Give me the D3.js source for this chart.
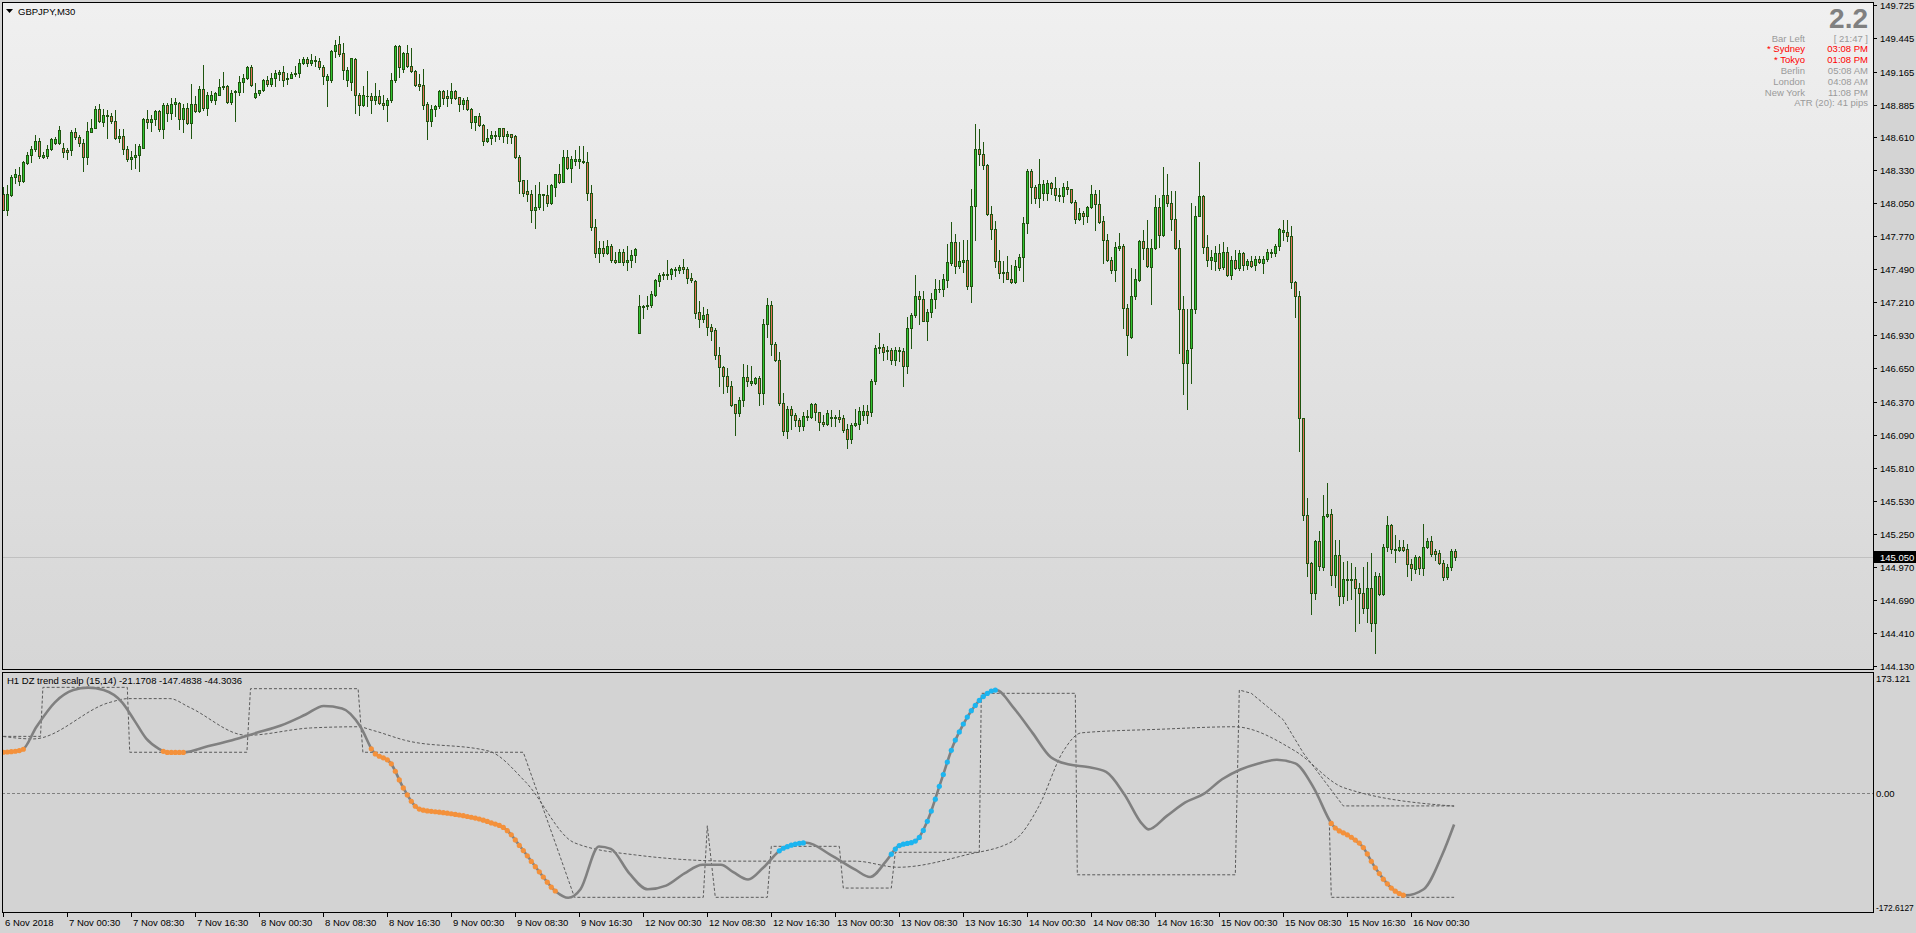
<!DOCTYPE html>
<html><head><meta charset="utf-8">
<script src="https://cdnjs.cloudflare.com/ajax/libs/d3/7.8.5/d3.min.js"></script>
<style>
body{margin:0;background:#d4d4d4;overflow:hidden}
svg{display:block}
text{font-family:"Liberation Sans",Arial,sans-serif}
</style></head>
<body><svg id="c" width="1916" height="933"></svg>
<script>
// ---------- DATA ----------
const symbolTitle = "GBPJPY,M30";
const opens = [148.13,147.99,148.12,148.27,148.29,148.24,148.39,148.46,148.51,148.58,148.44,148.45,148.51,148.56,148.56,148.52,148.50,148.50,148.65,148.61,148.56,148.44,148.65,148.69,148.85,148.74,148.79,148.79,148.75,148.60,148.62,148.51,148.42,148.44,148.46,148.52,148.76,148.74,148.76,148.83,148.68,148.88,148.81,148.89,148.90,148.76,148.86,148.73,148.89,148.83,149.02,148.86,148.92,148.92,148.97,149.03,149.04,148.91,148.99,148.99,149.08,149.11,149.20,148.95,148.98,149.01,149.09,149.06,149.11,149.14,149.16,149.10,149.11,149.14,149.15,149.24,149.27,149.24,149.25,149.25,149.20,149.09,149.09,149.34,149.40,149.32,149.09,149.08,149.27,148.97,148.88,148.96,
148.96,148.92,148.96,148.90,148.88,148.92,149.09,149.38,149.19,149.32,149.21,149.17,149.06,149.05,148.89,148.75,148.85,148.87,149.00,148.96,148.94,149.00,148.95,148.89,148.92,148.85,148.74,148.79,148.71,148.58,148.60,148.62,148.62,148.69,148.62,148.64,148.62,148.44,148.25,148.15,148.13,147.99,148.02,148.12,148.12,148.05,148.19,148.30,148.23,148.44,148.35,148.41,148.41,148.41,148.40,148.14,147.85,147.63,147.67,147.63,147.69,147.57,147.55,147.64,147.55,147.57,147.61,
146.95,147.17,147.18,147.19,147.27,147.39,147.44,147.44,147.45,147.48,147.48,147.51,147.49,147.42,147.39,147.13,147.07,147.11,147.00,146.98,146.76,146.66,146.59,146.50,146.35,146.27,146.38,146.58,146.53,146.53,146.57,146.44,147.03,147.19,146.86,146.72,146.36,146.12,146.31,146.26,146.21,146.16,146.24,146.24,146.35,146.28,146.20,146.18,146.23,146.23,146.24,146.23,146.14,146.05,146.17,146.18,146.26,146.29,146.28,146.54,146.82,146.83,146.80,146.81,146.72,146.81,146.80,146.67,146.99,147.10,147.26,147.24,147.05,147.13,147.24,147.32,147.32,147.40,147.54,147.72,147.52,147.55,147.57,147.35,148.03,148.51,148.47,148.37,147.96,147.83,147.56,147.46,147.47,147.41,147.38,147.51,147.59,147.88,148.32,148.19,148.09,148.14,148.14,148.22,148.18,148.11,148.11,148.19,148.17,148.06,147.92,147.97,147.94,148.02,148.13,
148.04,147.90,147.74,147.57,147.48,147.67,147.69,147.16,146.92,147.26,147.40,147.73,147.67,147.51,147.67,148.02,147.78,148.12,148.05,147.92,147.67,147.15,146.70,146.82,147.15,147.94,148.11,147.68,147.57,147.56,147.63,147.51,147.64,147.44,147.57,147.50,147.63,147.53,147.56,147.53,147.58,147.54,147.58,147.63,147.63,147.69,147.81,147.81,147.77,147.38,147.26,146.23,145.41,145.00,144.75,145.19,144.97,145.40,145.42,144.90,145.07,144.72,144.86,144.86,144.87,144.79,144.75,144.62,144.79,144.49,144.89,144.74,145.14,145.32,145.11,145.11,145.14,145.12,144.99,144.95,145.05,144.96,145.14,145.19,145.10,145.09,145.00,144.88,144.97,145.10];
const highs = [148.19,148.20,148.29,148.34,148.36,148.41,148.48,148.53,148.63,148.60,148.48,148.54,148.60,148.61,148.70,148.56,148.52,148.67,148.69,148.63,148.59,148.74,148.76,148.87,148.89,148.85,148.84,148.81,148.84,148.68,148.68,148.53,148.49,148.55,148.55,148.77,148.84,148.80,148.84,148.84,148.90,148.90,148.94,148.94,148.91,148.89,148.90,149.06,148.96,149.04,149.22,148.99,149.00,148.99,149.10,149.16,149.05,149.01,149.01,149.13,149.14,149.21,149.22,149.07,149.01,149.10,149.13,149.15,149.18,149.18,149.21,149.15,149.16,149.21,149.27,149.29,149.29,149.31,149.30,149.28,149.22,149.14,149.35,149.43,149.47,149.41,149.20,149.28,149.28,148.98,149.04,149.17,
148.98,149.07,149.01,148.97,148.94,149.15,149.39,149.39,149.33,149.39,149.36,149.18,149.14,149.19,148.91,148.88,148.88,149.01,149.01,149.01,149.07,149.01,148.95,148.94,148.95,148.86,148.79,148.81,148.72,148.68,148.66,148.66,148.69,148.69,148.66,148.64,148.63,148.46,148.25,148.25,148.16,148.20,148.23,148.13,148.20,148.21,148.30,148.38,148.50,148.50,148.45,148.50,148.53,148.53,148.48,148.20,147.92,147.73,147.73,147.74,147.70,147.64,147.66,147.66,147.69,147.65,147.67,
147.27,147.19,147.26,147.31,147.41,147.46,147.47,147.57,147.50,147.51,147.53,147.58,147.51,147.46,147.40,147.22,147.17,147.15,147.03,146.99,146.83,146.67,146.65,146.54,146.35,146.41,146.69,146.68,146.67,146.58,146.59,147.07,147.25,147.22,146.87,146.79,146.44,146.33,146.33,146.27,146.23,146.28,146.30,146.36,146.36,146.28,146.26,146.30,146.30,146.26,146.30,146.26,146.18,146.19,146.31,146.32,146.34,146.34,146.56,146.85,146.95,146.86,146.84,146.82,146.83,146.83,146.82,147.09,147.12,147.44,147.31,147.31,147.15,147.29,147.41,147.40,147.45,147.70,147.89,147.79,147.72,147.74,147.74,148.17,148.72,148.68,148.57,148.38,148.03,147.90,147.65,147.56,147.60,147.53,147.57,147.62,147.93,148.34,148.34,148.20,148.42,148.25,148.25,148.23,148.27,148.18,148.22,148.24,148.17,148.08,148.01,147.98,148.03,148.20,148.16,
148.16,147.94,147.79,147.59,147.72,147.80,147.70,147.20,147.50,147.49,147.74,147.82,147.91,147.75,148.12,148.09,148.36,148.30,148.15,148.15,147.74,147.26,147.15,148.05,148.03,148.40,148.12,147.78,147.65,147.69,147.70,147.72,147.68,147.60,147.65,147.65,147.64,147.58,147.60,147.60,147.60,147.60,147.66,147.66,147.70,147.84,147.91,147.91,147.86,147.39,147.31,146.23,145.55,145.01,145.20,145.27,145.58,145.68,145.46,145.20,145.20,145.01,145.02,145.00,144.97,144.83,144.97,145.01,145.09,144.93,144.92,145.16,145.40,145.33,145.24,145.20,145.20,145.16,145.04,145.07,145.06,145.33,145.21,145.23,145.12,145.11,145.03,144.99,145.12,145.12];
const lows = [147.99,147.95,148.11,148.22,148.20,148.23,148.38,148.40,148.49,148.43,148.43,148.43,148.50,148.55,148.55,148.44,148.42,148.46,148.59,148.53,148.32,148.38,148.65,148.69,148.74,148.70,148.60,148.73,148.59,148.57,148.47,148.41,148.34,148.35,148.32,148.52,148.69,148.66,148.71,148.66,148.60,148.75,148.76,148.79,148.68,148.65,148.72,148.60,148.82,148.82,148.84,148.80,148.91,148.89,148.97,149.02,148.90,148.89,148.75,148.97,148.99,149.10,149.04,148.94,148.97,149.00,149.04,149.04,149.04,149.09,149.04,149.06,149.11,149.13,149.12,149.23,149.21,149.22,149.21,149.19,149.06,148.87,149.08,149.29,149.30,149.10,149.04,149.01,148.81,148.80,148.87,148.87,
148.81,148.89,148.89,148.85,148.75,148.91,149.08,149.12,149.16,149.20,149.16,149.04,149.01,148.85,148.59,148.70,148.79,148.86,148.89,148.87,148.90,148.93,148.83,148.85,148.84,148.69,148.67,148.70,148.54,148.57,148.55,148.58,148.59,148.57,148.56,148.56,148.43,148.14,148.11,148.07,147.89,147.84,148.00,147.99,148.03,148.04,148.11,148.22,148.23,148.34,148.23,148.37,148.35,148.39,148.08,147.82,147.59,147.55,147.60,147.62,147.55,147.54,147.55,147.53,147.48,147.51,147.55,
146.95,147.08,147.15,147.17,147.26,147.35,147.41,147.41,147.41,147.43,147.46,147.46,147.37,147.38,147.08,147.00,147.04,146.93,146.89,146.73,146.50,146.44,146.45,146.33,146.09,146.25,146.33,146.50,146.51,146.52,146.34,146.35,146.92,146.76,146.71,146.34,146.09,146.06,146.14,146.16,146.12,146.13,146.21,146.23,146.21,146.13,146.16,146.17,146.16,146.16,146.20,146.11,145.98,146.02,146.16,146.14,146.21,146.19,146.25,146.52,146.78,146.72,146.73,146.69,146.68,146.71,146.50,146.61,146.82,147.09,147.03,147.05,146.89,147.09,147.16,147.30,147.26,147.34,147.53,147.46,147.50,147.47,147.32,147.21,147.74,148.37,148.34,147.95,147.75,147.51,147.42,147.38,147.41,147.37,147.37,147.48,147.39,147.80,148.05,148.05,148.02,148.08,148.08,148.13,148.08,148.07,148.06,148.13,148.05,147.88,147.91,147.87,147.89,148.01,147.82,
147.88,147.54,147.56,147.46,147.39,147.65,146.99,146.76,146.91,147.24,147.39,147.58,147.51,147.20,147.66,147.68,147.77,148.03,147.82,147.66,146.78,146.43,146.31,146.53,147.12,147.94,147.63,147.52,147.49,147.48,147.48,147.49,147.43,147.41,147.49,147.48,147.48,147.49,147.51,147.48,147.54,147.46,147.56,147.59,147.60,147.65,147.74,147.73,147.33,147.09,145.95,145.37,144.89,144.57,144.70,144.94,144.94,145.39,144.82,144.80,144.65,144.66,144.69,144.70,144.43,144.49,144.58,144.50,144.43,144.24,144.73,144.73,145.10,145.09,145.01,145.10,145.10,144.89,144.86,144.92,144.91,144.90,145.13,145.06,145.03,144.99,144.86,144.87,144.94,145.03];
const closes = [147.99,148.13,148.27,148.30,148.24,148.40,148.46,148.51,148.58,148.45,148.46,148.51,148.59,148.59,148.67,148.48,148.48,148.65,148.61,148.56,148.44,148.66,148.69,148.85,148.75,148.80,148.80,148.75,148.60,148.62,148.51,148.42,148.44,148.46,148.53,148.76,148.74,148.76,148.83,148.68,148.88,148.81,148.89,148.91,148.76,148.86,148.73,148.89,148.83,149.02,148.86,148.97,148.97,148.98,149.03,149.04,148.91,148.98,149.00,149.08,149.11,149.20,149.05,148.98,149.01,149.09,149.06,149.11,149.15,149.16,149.09,149.11,149.14,149.15,149.24,149.27,149.24,149.26,149.26,149.20,149.13,149.13,149.34,149.39,149.31,149.18,149.18,149.28,148.97,148.88,148.97,148.96,
148.92,148.96,148.90,148.88,148.92,149.09,149.38,149.20,149.32,149.21,149.17,149.05,149.04,148.88,148.75,148.85,148.87,149.00,148.94,148.94,149.00,148.94,148.89,148.92,148.85,148.74,148.79,148.71,148.58,148.60,148.63,148.63,148.69,148.62,148.64,148.61,148.44,148.24,148.14,148.13,147.99,148.02,148.13,148.13,148.05,148.20,148.30,148.23,148.44,148.35,148.42,148.42,148.42,148.40,148.14,147.85,147.63,147.67,147.63,147.69,147.57,147.55,147.64,147.55,147.57,147.61,147.66,
147.18,147.18,147.19,147.28,147.40,147.44,147.45,147.45,147.49,147.49,147.51,147.49,147.42,147.40,147.12,147.07,147.10,147.00,146.97,146.76,146.66,146.59,146.50,146.34,146.27,146.38,146.58,146.54,146.54,146.57,146.44,147.03,147.19,146.86,146.72,146.36,146.12,146.31,146.26,146.21,146.16,146.25,146.25,146.35,146.28,146.20,146.18,146.27,146.24,146.24,146.22,146.13,146.05,146.17,146.19,146.29,146.29,146.26,146.54,146.82,146.83,146.79,146.81,146.72,146.81,146.80,146.67,146.99,147.10,147.26,147.24,147.05,147.13,147.24,147.32,147.32,147.41,147.55,147.72,147.52,147.56,147.57,147.35,148.03,148.51,148.47,148.37,147.96,147.83,147.56,147.46,147.47,147.41,147.38,147.52,147.59,147.88,148.32,148.19,148.09,148.21,148.21,148.22,148.18,148.12,148.12,148.19,148.17,148.06,147.92,147.97,147.94,148.02,148.13,148.04,
147.89,147.74,147.57,147.48,147.68,147.69,147.16,146.93,147.26,147.41,147.73,147.67,147.52,147.67,148.02,147.78,148.12,148.05,147.92,147.67,147.15,146.70,146.81,147.15,147.94,148.11,147.68,147.57,147.59,147.63,147.50,147.64,147.44,147.57,147.50,147.63,147.53,147.56,147.52,147.58,147.55,147.58,147.64,147.64,147.69,147.83,147.82,147.77,147.38,147.26,146.23,145.41,145.00,144.75,145.19,144.98,145.40,145.42,144.90,145.07,144.72,144.87,144.87,144.87,144.79,144.75,144.62,144.79,144.49,144.89,144.74,145.14,145.32,145.12,145.12,145.14,145.11,144.99,144.96,145.05,144.96,145.14,145.19,145.08,145.08,145.00,144.88,144.97,145.10,145.05];

const priceTicks = [149.725,149.445,149.165,148.885,148.610,148.330,148.050,147.770,147.490,147.210,146.930,146.650,146.370,146.090,145.810,145.530,145.250,144.970,144.690,144.410,144.130];
const currentPrice = 145.050;
const timeLabels = ["6 Nov 2018","7 Nov 00:30","7 Nov 08:30","7 Nov 16:30","8 Nov 00:30","8 Nov 08:30","8 Nov 16:30","9 Nov 00:30","9 Nov 08:30","9 Nov 16:30","12 Nov 00:30","12 Nov 08:30","12 Nov 16:30","13 Nov 00:30","13 Nov 08:30","13 Nov 16:30","14 Nov 00:30","14 Nov 08:30","14 Nov 16:30","15 Nov 00:30","15 Nov 08:30","15 Nov 16:30","16 Nov 00:30"];
const timeLabelBars = [0,16,32,48,64,80,96,112,128,144,160,176,192,208,224,240,256,272,288,304,320,336,352];

// indicator panel
const indicatorTitle = "H1 DZ trend scalp (15,14) -21.1708 -147.4838 -44.3036";
const indTickLabels = ["173.121","0.00","-172.6127"];
const indTickValues = [173.121, 0, -172.6127];
const trendBars = [0,4.7,8.3,12.9,17.5,21.2,25.1,29.7,32.8,35.8,38.9,41,45,51.1,57.2,63.3,69.4,75.6,80.1,84.7,89.3,92.4,96.9,100,103,104.6,109.2,115.3,121.4,126,129,133.6,138.2,141.2,144.3,148.9,151.9,156.5,161.1,165.7,170.3,174.8,179.4,182.5,186.2,190.1,194.7,200.8,206.9,213,216.7,220.7,223.7,228.3,231.3,234.4,237.5,240.5,243.6,248.2,252.7,257.3,261.9,266.5,271.1,275.7,280.2,284.8,286.3,290.9,295.5,300.1,304.7,309.3,313.8,318.4,323,327.6,332.2,336.8,339.8,342.9,347.4,350.5,355.1,359.7,362.7];
const trendVals = [61,64.5,99.5,136.4,154.9,158.6,154.9,136.4,108.8,81.1,66.3,60.8,60.8,70,79.3,90.3,101.4,118,130.9,127.2,99.5,62.7,44.2,7.3,-20.4,-25.9,-29.6,-35.1,-44.3,-57.2,-79.4,-116.3,-149.5,-158.7,-145.8,-81.2,-84.9,-121.8,-145.8,-140.3,-121.8,-108.9,-108.9,-120,-131.1,-112.6,-84.9,-75.7,-94.2,-116.3,-127.4,-103.4,-81.2,-72,-38.8,16.6,71.9,108.8,136.4,154.9,127.2,90.3,53.4,42.4,38.7,31.3,-1.9,-48,-55.4,-35.1,-14.8,-1.9,20.2,35,44.2,49.7,44.2,7.3,-48,-66.5,-81.2,-112.6,-145.8,-155,-145.8,-94.2,-48];
const downSegments = [[0,5],[40,45],[92,138],[332,350]];
const upSegments = [[194,200],[222,248]];
const zoneBars = [0,7.4,26.7,31.2,41.6,46.5,60.9,76.8,88.7,92.4,100.3,121.4,130.5,142.8,158,182.5,213,223.7,240.5,252.7,258.9,265,269.5,289.4,307.7,323,335.2,362.7];
const zoneVals = [84.8,81.1,136.4,142,142,129,86.6,97.7,99.5,94,79.3,62.7,16.6,-75.7,-94,-103.4,-103.4,-112.6,-94.2,-72,-20.4,62.7,90.3,95.8,99.5,62.7,7.3,-20.4];
const stepBars = [0,9.3,9.9,31,31.6,60.9,61.8,88.7,89.9,130,142.8,175,176,178,191,192,209,210,222,223,244,244.5,268,268.5,308,309,312,316,320,325,330,335,362.7];
const stepVals = [85,85,159,159,61,61,157,157,61,61,-158,-158,-50,-158,-158,-81,-81,-144,-144,-90,-90,150,150,-124,-124,155,150,130,110,60,20,-20,-20];
const lowerBars = [331.5,332,362.7];
const lowerVals = [-45,-158,-158];

// ---------- LAYOUT ----------
const W = 1916, H = 933;
const L = 2, R = 1873;
const mainTop = 2, mainBot = 669;
const indTop = 672, indBot = 912;
const barsVisible = 467;

const svg = d3.select("#c");
const defs = svg.append("defs");
const grad = defs.append("linearGradient").attr("id","bg").attr("x1",0).attr("y1",0).attr("x2",0).attr("y2",1);
grad.append("stop").attr("offset","0%").attr("stop-color","#f0f0f0");
grad.append("stop").attr("offset","100%").attr("stop-color","#d6d6d6");
defs.append("clipPath").attr("id","clipMain").append("rect").attr("x",L).attr("y",mainTop).attr("width",R-L).attr("height",mainBot-mainTop);
defs.append("clipPath").attr("id","clipInd").append("rect").attr("x",L).attr("y",indTop).attr("width",R-L).attr("height",indBot-indTop);

svg.append("rect").attr("width",W).attr("height",H).attr("fill","#d4d4d4");
svg.append("rect").attr("x",L).attr("y",mainTop).attr("width",R-L).attr("height",mainBot-mainTop).attr("fill","url(#bg)");
svg.append("rect").attr("x",L).attr("y",indTop).attr("width",R-L).attr("height",indBot-indTop).attr("fill","#d3d3d3");

const x = d3.scaleLinear().domain([0, barsVisible]).range([3.3, 3.3 + 4*barsVisible]);
const y = d3.scaleLinear().domain([144.13, 149.725]).range([666, 5.4]);
const yi = d3.scaleLinear().domain([-172.6127, 173.121]).range([907, 678]);

// current price line
const gMain = svg.append("g").attr("clip-path","url(#clipMain)");
gMain.append("line").attr("x1",L).attr("x2",R).attr("y1",Math.round(y(currentPrice))+0.5).attr("y2",Math.round(y(currentPrice))+0.5)
  .attr("stroke","#c0c0c0").attr("stroke-width",1);

// candles
const bars = d3.range(closes.length);
const cg = gMain.append("g").attr("shape-rendering","crispEdges");
bars.forEach(i=>{
  const cx = Math.round(x(i));
  const yh = Math.round(y(highs[i])), yl = Math.round(y(lows[i]));
  const yo = Math.round(y(opens[i])), yc = Math.round(y(closes[i]));
  cg.append("line").attr("x1",cx+0.5).attr("x2",cx+0.5).attr("y1",yh).attr("y2",yl+1)
    .attr("stroke","#1f5510").attr("stroke-width",1);
  const top = Math.min(yo,yc), bot = Math.max(yo,yc);
  const up = closes[i] >= opens[i];
  if (bot - top < 1) {
    cg.append("line").attr("x1",cx-1).attr("x2",cx+2).attr("y1",top+0.5).attr("y2",top+0.5)
      .attr("stroke","#1f5510").attr("stroke-width",1);
  } else {
    cg.append("rect").attr("x",cx-0.5).attr("y",top+0.5).attr("width",2).attr("height",bot-top)
      .attr("fill", up ? "#31c431" : "#e4705a").attr("stroke","#1f5510").attr("stroke-width",1);
  }
});

// title
svg.append("path").attr("d","M6,9 L13,9 L9.5,13 Z").attr("fill","#000");
svg.append("text").attr("x",18).attr("y",14.5).attr("font-size",9.5).attr("fill","#000").text(symbolTitle);

// info block
const infoLabels = ["Bar Left","* Sydney","* Tokyo","Berlin","London","New York"];
const infoValues = ["[ 21:47 ]","03:08 PM","01:08 PM","05:08 AM","04:08 AM","11:08 PM"];
const infoRed = [false,true,true,false,false,false];
svg.append("text").attr("x",1868).attr("y",28).attr("text-anchor","end").attr("font-size",28).attr("font-weight","bold").attr("fill","#808080").text("2.2");
infoLabels.forEach((t,k)=>{
  const yy = 41.5 + k*10.8;
  const col = infoRed[k] ? "#ff0000" : "#9a9a9a";
  svg.append("text").attr("x",1805).attr("y",yy).attr("text-anchor","end").attr("font-size",9.5).attr("fill",col).text(t);
  svg.append("text").attr("x",1868).attr("y",yy).attr("text-anchor","end").attr("font-size",9.5).attr("fill",col).text(infoValues[k]);
});
svg.append("text").attr("x",1868).attr("y",41.5+6*10.8).attr("text-anchor","end").attr("font-size",9.5).attr("fill","#9a9a9a").text("ATR (20): 41 pips");

// price axis
const ax = svg.append("g").attr("shape-rendering","crispEdges");
priceTicks.forEach(p=>{
  const yy = Math.round(y(p));
  ax.append("line").attr("x1",R).attr("x2",R+4).attr("y1",yy+0.5).attr("y2",yy+0.5).attr("stroke","#000");
  svg.append("text").attr("x",R+7).attr("y",yy+3.5).attr("font-size",9.5).attr("fill","#000").text(d3.format(".3f")(p));
});
// current price tag
const cpy = Math.round(y(currentPrice));
svg.append("rect").attr("x",R+1).attr("y",cpy-6).attr("width",W-R-1).attr("height",12).attr("fill","#000");
svg.append("text").attr("x",R+7).attr("y",cpy+3.5).attr("font-size",9.5).attr("fill","#fff").text(d3.format(".3f")(currentPrice));

// indicator panel
const gi = svg.append("g").attr("clip-path","url(#clipInd)");
gi.append("line").attr("x1",L).attr("x2",R).attr("y1",Math.round(yi(0))+0.5).attr("y2",Math.round(yi(0))+0.5)
  .attr("stroke","#808080").attr("stroke-dasharray","3,2");
const lineGen = d3.line().x(d=>x(d[0])).y(d=>yi(d[1]));
gi.append("path").datum(d3.zip(stepBars,stepVals)).attr("d",lineGen).attr("fill","none")
  .attr("stroke","#5a5a5a").attr("stroke-width",1).attr("stroke-dasharray","3,2");
gi.append("path").datum(d3.zip(lowerBars,lowerVals)).attr("d",lineGen).attr("fill","none")
  .attr("stroke","#5a5a5a").attr("stroke-width",1).attr("stroke-dasharray","3,2");
gi.append("path").datum(d3.zip(zoneBars,zoneVals)).attr("d",d3.line().x(d=>x(d[0])).y(d=>yi(d[1])).curve(d3.curveMonotoneX)).attr("fill","none")
  .attr("stroke","#5a5a5a").attr("stroke-width",1).attr("stroke-dasharray","3,2");
const trendPath = gi.append("path").datum(d3.zip(trendBars,trendVals))
  .attr("d",d3.line().x(d=>x(d[0])).y(d=>yi(d[1])).curve(d3.curveMonotoneX))
  .attr("fill","none").attr("stroke","#808080").attr("stroke-width",2.6);
// sample path for dots
const pnode = trendPath.node();
const tl = pnode.getTotalLength();
const samples = [];
for (let s=0; s<=tl; s+=0.5) samples.push(pnode.getPointAtLength(s));
function yAtX(px){
  let best = samples[0], bd = 1e9;
  for (const p of samples){ const d = Math.abs(p.x-px); if (d<bd){bd=d;best=p;} }
  return best.y;
}
function dots(segs, color){
  segs.forEach(([a,b])=>{
    for (let i=a;i<=b;i++){
      const px = x(i);
      gi.append("circle").attr("cx",px).attr("cy",yAtX(px)).attr("r",2.6).attr("fill",color);
    }
  });
}
dots(downSegments,"#f4913b");
dots(upSegments,"#1cb5f0");

svg.append("text").attr("x",7).attr("y",684).attr("font-size",9.5).attr("fill","#000").text(indicatorTitle);
indTickValues.forEach((v,k)=>{
  const yy = Math.round(yi(v));
  const fs = indTickLabels[k].length > 8 ? 8.4 : 9.5;
  svg.append("text").attr("x",R+3).attr("y",yy+3.5).attr("font-size",fs).attr("fill","#000").text(indTickLabels[k]);
});

// frames
const fr = svg.append("g").attr("shape-rendering","crispEdges").attr("fill","none").attr("stroke","#000");
fr.append("rect").attr("x",L+0.5).attr("y",mainTop+0.5).attr("width",R-L).attr("height",mainBot-mainTop);
fr.append("rect").attr("x",L+0.5).attr("y",indTop+0.5).attr("width",R-L).attr("height",indBot-indTop);

// time axis
timeLabels.forEach((t,k)=>{
  const tx = Math.round(x(timeLabelBars[k]));
  fr.append("line").attr("x1",tx+0.5).attr("x2",tx+0.5).attr("y1",indBot).attr("y2",indBot+5);
  svg.append("text").attr("x",tx+2).attr("y",926).attr("font-size",9.5).attr("fill","#000").text(t);
});
</script></body></html>
